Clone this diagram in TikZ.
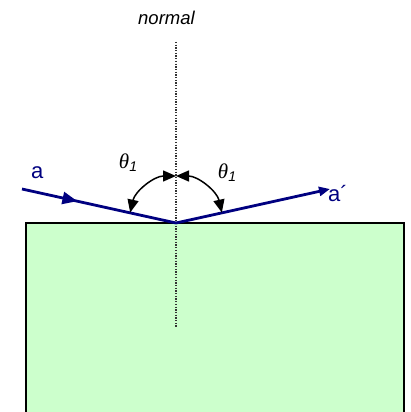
\documentclass[tikz,border=0pt]{standalone}
\usepackage{fontspec}
\setmainfont{Liberation Sans}
\newfontfamily\greekserif{Liberation Serif}
\usetikzlibrary{arrows.meta, decorations.markings, positioning, calc}
\definecolor{raynavy}{RGB}{0,0,128}
\definecolor{slabgreen}{RGB}{204,255,204}
\tikzstyle{ray} = [raynavy, line width=2.8pt]
\tikzstyle{midarrow} = [postaction={decorate}, decoration={markings, mark=at position 0.36 with {\arrow{Triangle[length=15pt,width=12pt]}}}]
\tikzstyle{anglearc} = [line width=1.5pt, {Triangle[length=13pt,width=11pt]}-{Triangle[length=13pt,width=11pt]}]
\tikzstyle{normalline} = [dash pattern=on 1.3pt off 1.4pt, line width=1.2pt, black!80]
\tikzstyle{raylbl} = [inner sep=0pt, text=raynavy, font=\fontsize{22}{24}\selectfont]
\tikzstyle{anglelbl} = [inner sep=0pt, font=\fontsize{21}{22}\selectfont]
\newcommand{\thetaone}{{\greekserif\itshape θ}\raisebox{-3pt}{\fontsize{14}{15}\selectfont\itshape 1}}

\begin{document}
\begin{tikzpicture}[x=1pt, y=1pt]
    \useasboundingbox (0,0) rectangle (411,412);
    % Points
    \coordinate (hit) at (176,189);
    \coordinate (start) at (22,223);
    \coordinate (finish) at (330,223);
    \coordinate (ntop) at (176,370);
    \coordinate (nbottom) at (176,85);

    % Slab
    \fill[slabgreen] (26,-5) rectangle (404,189);
    \draw[line width=1.6pt] (26,-5) |- (404,189) -- (404,-5);

    % Normal
    \draw[normalline] (ntop) -- (nbottom);
    \node (normal) [anchor=base west, inner sep=0pt, font=\fontsize{18.5}{20}\selectfont\itshape] at (138,387) {normal};

    % Rays
    \draw[ray, midarrow] (start) -- (hit);
    \draw[ray, -{Triangle[length=11pt,width=9pt]}] (hit) -- (finish);
    \node (ain) [raylbl, anchor=base west] at (31,233) {a};
    \node (aout) [raylbl, anchor=base west] at (328,210) {a´};

    % Angles
    \draw[anglearc] ($(hit)+(167.2:47)$) arc[start angle=167.2, end angle=90, radius=47];
    \draw[anglearc] ($(hit)+(90:47)$) arc[start angle=90, end angle=12.8, radius=47];
    \node (thl) [anglelbl] at (128,249) {\thetaone};
    \node (thr) [anglelbl] at (227,239) {\thetaone};
\end{tikzpicture}
\end{document}
